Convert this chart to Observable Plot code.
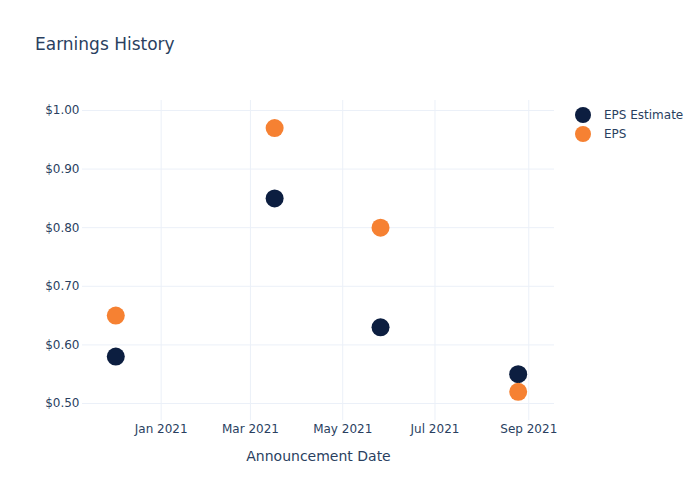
<!DOCTYPE html>
<html><head><meta charset="utf-8">
<script src="https://cdn.jsdelivr.net/npm/d3@7"></script>
<script src="https://cdn.jsdelivr.net/npm/@observablehq/plot@0.6"></script>
<style>
body{margin:0;background:#fff;font-family:"DejaVu Sans",sans-serif}
#wrap{position:relative;width:700px;height:500px;overflow:hidden}
#title{position:absolute;left:35px;top:34px;font-size:17px;color:#2a3f5f;white-space:nowrap}
.leg{position:absolute;left:575px;font-size:12px;color:#2a3f5f;white-space:nowrap;display:flex;align-items:center;height:18px}
.leg span.sw{display:inline-block;width:16px;height:16px;border-radius:50%;margin-right:13px}
</style></head><body>
<div id="wrap"></div>
<script>
const dates = ["2020-12-02","2021-03-17","2021-05-26","2021-08-25"];
const epsEstimate = [0.58, 0.85, 0.63, 0.55];
const eps = [0.65, 0.97, 0.80, 0.52];
const seriesNames = ["EPS Estimate", "EPS"];
const colors = ["#0c1e40", "#f68132"];
const xTicks = ["2021-01-01","2021-03-01","2021-05-01","2021-07-01","2021-09-01"];
const yTicks = [0.5, 0.6, 0.7, 0.8, 0.9, 1.0];
const title = "Earnings History";
const xLabel = "Announcement Date";

const parse = d3.utcParse("%Y-%m-%d");
const estRows = dates.map((d, i) => ({date: parse(d), value: epsEstimate[i], series: seriesNames[0]}));
const epsRows = dates.map((d, i) => ({date: parse(d), value: eps[i], series: seriesNames[1]}));
const xt = xTicks.map(parse);

const chart = Plot.plot({
  width: 700, height: 500,
  marginLeft: 82, marginRight: 146, marginTop: 100, marginBottom: 80,
  style: {fontFamily: "'DejaVu Sans', sans-serif", fontSize: "12px", color: "#2a3f5f", background: "white"},
  x: {type: "utc", domain: [parse("2020-11-10"), parse("2021-09-18")]},
  y: {domain: [0.471, 1.017]},
  marks: [
    Plot.gridX(xt, {stroke: "#ebf0f8", strokeOpacity: 1}),
    Plot.gridY(yTicks, {stroke: "#ebf0f8", strokeOpacity: 1}),
    Plot.axisX(xt, {tickSize: 0, tickPadding: 4, tickFormat: d3.utcFormat("%b %Y"), label: null, fill: "#2a3f5f"}),
    Plot.axisY(yTicks, {tickSize: 0, tickPadding: 3, tickFormat: d => "$" + d.toFixed(2), label: null, fill: "#2a3f5f"}),
    Plot.dot(estRows, {x: "date", y: "value", r: 9, fill: colors[0]}),
    Plot.dot(epsRows, {x: "date", y: "value", r: 9, fill: colors[1]}),
    Plot.text([xLabel], {frameAnchor: "bottom", dy: 40, fontSize: 14, fill: "#2a3f5f"})
  ]
});

const wrap = document.getElementById("wrap");
wrap.appendChild(chart);
const t = document.createElement("div");
t.id = "title"; t.textContent = title; wrap.appendChild(t);
seriesNames.forEach((n, i) => {
  const l = document.createElement("div");
  l.className = "leg";
  l.style.top = (106 + i * 19) + "px";
  l.innerHTML = `<span class="sw" style="background:${colors[i]}"></span>`;
  l.appendChild(document.createTextNode(n));
  wrap.appendChild(l);
});
</script>
</body></html>
